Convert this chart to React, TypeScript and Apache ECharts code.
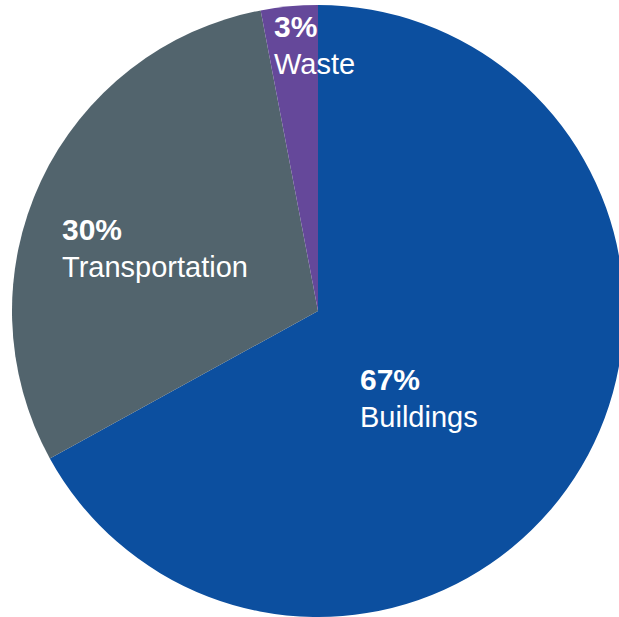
import React, { useEffect, useRef } from "react";
import * as echarts from "echarts";

const categories = ["Buildings", "Transportation", "Waste"];
const values = [67, 30, 3];
const colors = ["#0c4f9f", "#52646d", "#65489a"];

// label anchor (top-left of each label box), in pixels
const labelAnchors = [
  [360, 361],
  [62, 211],
  [274, 8],
];

export default function App() {
  const ref = useRef<HTMLDivElement>(null);
  useEffect(() => {
    if (!ref.current) return;
    const chart = echarts.init(ref.current, null, { renderer: "svg" });
    chart.setOption({
      animation: false,
      backgroundColor: "#ffffff",
      series: [
        {
          type: "pie",
          center: [318, 311],
          radius: 306,
          startAngle: 90,
          clockwise: true,
          silent: true,
          data: categories.map((c, i) => ({
            name: c,
            value: values[i],
            itemStyle: { color: colors[i] },
          })),
          label: {
            show: true,
            position: "inside",
            formatter: (p: any) => `{p|${Math.round(p.percent)}%}\n{n|${p.name}}`,
            rich: {
              p: {
                fontFamily: "Liberation Sans",
                fontWeight: "bold",
                fontSize: 30,
                color: "#ffffff",
                lineHeight: 37,
                align: "left",
              },
              n: {
                fontFamily: "Liberation Sans",
                fontWeight: "normal",
                fontSize: 29,
                color: "#ffffff",
                lineHeight: 37,
                align: "left",
              },
            },
          },
          labelLine: { show: false },
          labelLayout: (params: any) => {
            const a = labelAnchors[params.dataIndex];
            return { x: a[0], y: a[1], align: "left", verticalAlign: "top" };
          },
        },
      ],
    });
    return () => chart.dispose();
  }, []);
  return (
    <div
      ref={ref}
      style={{ position: "fixed", left: 0, top: 0, width: 619, height: 617 }}
    />
  );
}
